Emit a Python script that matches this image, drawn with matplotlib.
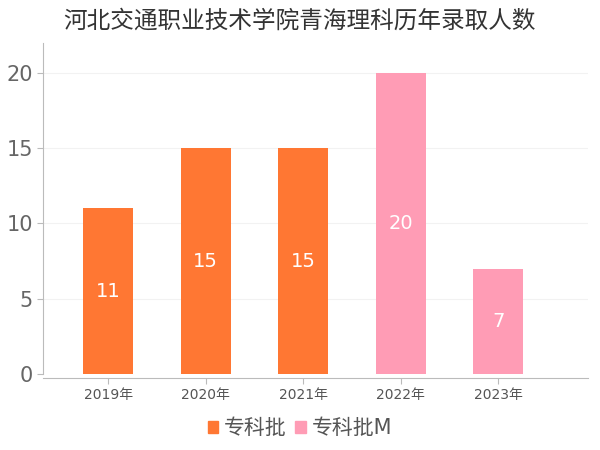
import matplotlib.pyplot as plt
from matplotlib.patches import Patch

plt.rcParams['font.family'] = ['DejaVu Sans', 'Noto Sans CJK SC']

years = ['2019年', '2020年', '2021年', '2022年', '2023年']
values = [11, 15, 15, 20, 7]
batches = ['专科批', '专科批', '专科批', '专科批M', '专科批M']
colors = {'专科批': '#FF7733', '专科批M': '#FF9CB5'}

fig = plt.figure(figsize=(6, 4.5), dpi=100)
ax = fig.add_axes([0.072, 0.16, 0.908, 0.745])

x = list(range(len(years)))
bars = ax.bar(x, values, width=0.51, color=[colors[b] for b in batches], zorder=3)
for b, v in zip(bars, values):
    ax.text(b.get_x() + b.get_width() / 2, v / 2, str(v), ha='center', va='center',
            color='white', fontsize=14, zorder=4)

ax.set_xlim(-0.667, 4.92)
ax.set_ylim(-0.27, 22)
ax.set_yticks([0, 5, 10, 15, 20])
ax.set_xticks(x)
ax.set_xticklabels(years)
ax.tick_params(axis='y', labelsize=15, colors='#666666', length=4, color='#bbbbbb')
ax.tick_params(axis='x', labelsize=10, colors='#555555', length=4, color='#bbbbbb')
for v in [5, 10, 15, 20]:
    ax.axhline(v, color='#f2f2f2', lw=0.8, zorder=1)

for s in ['top', 'right']:
    ax.spines[s].set_visible(False)
ax.spines['left'].set_color('#bbbbbb')
ax.spines['left'].set_bounds(0, 22)
ax.spines['bottom'].set_color('#bbbbbb')

fig.suptitle('河北交通职业技术学院青海理科历年录取人数', fontsize=17, color='#333333', y=0.98)

handles = [Patch(color=colors[k]) for k in colors]
fig.legend(handles, list(colors), loc='lower center', ncol=2, frameon=False,
           fontsize=15, handlelength=0.5, handleheight=0.5, handletextpad=0.3,
           columnspacing=0.4, bbox_to_anchor=(0.5, -0.015), labelcolor='#555555')

fig.savefig('out.png', dpi=100)
